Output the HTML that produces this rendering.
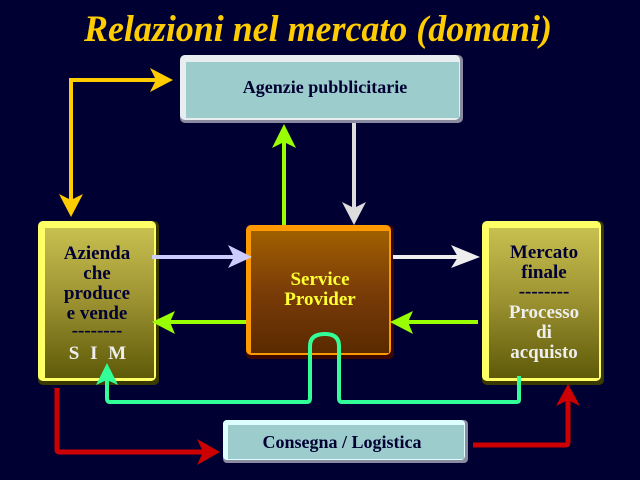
<!DOCTYPE html>
<html><head><meta charset="utf-8"><style>
html,body{margin:0;padding:0;background:#000033;}
svg{display:block}
text{font-family:"Liberation Serif",serif;font-weight:bold;}
</style></head><body>
<svg width="640" height="480" viewBox="0 0 640 480" xmlns="http://www.w3.org/2000/svg">
<defs>
<linearGradient id="yel" x1="0" y1="0" x2="0" y2="1">
<stop offset="0" stop-color="#c8c050"/><stop offset="0.5" stop-color="#9a9030"/><stop offset="1" stop-color="#5e5a08"/>
</linearGradient>
<linearGradient id="org" x1="0" y1="0" x2="0" y2="1">
<stop offset="0" stop-color="#a06000"/><stop offset="0.5" stop-color="#7a3c08"/><stop offset="1" stop-color="#5a2a00"/>
</linearGradient>
</defs>
<rect width="640" height="480" fill="#000033"/>
<text x="318" y="41" text-anchor="middle" font-size="37" font-style="italic" fill="#ffcc00" textLength="468" lengthAdjust="spacingAndGlyphs">Relazioni nel mercato (domani)</text>

<!-- Agenzie -->
<rect x="180" y="55" width="283" height="68" rx="5" fill="#8a8aa0"/>
<rect x="180" y="55" width="280" height="65" rx="5" fill="#e8eef0"/>
<rect x="186" y="62" width="273" height="56" fill="#9ccccc"/>
<text x="325" y="93" text-anchor="middle" font-size="18" fill="#000033">Agenzie pubblicitarie</text>

<!-- Azienda -->
<rect x="38" y="221" width="121" height="164" rx="5" fill="#3a3a00"/>
<rect x="38" y="221" width="118" height="160" rx="5" fill="#ffff66"/>
<rect x="45" y="228" width="109" height="150" fill="url(#yel)"/>
<g font-size="19" fill="#000033" text-anchor="middle">
<text x="97" y="259">Azienda</text><text x="97" y="279">che</text><text x="97" y="299">produce</text><text x="97" y="319">e vende</text><text x="97" y="336">--------</text>
</g>
<text x="99" y="359" text-anchor="middle" font-size="19" fill="#eeeeee" letter-spacing="3">S I M</text>

<!-- Service Provider -->
<rect x="246" y="225" width="148" height="134" rx="5" fill="#3a0800"/>
<rect x="246" y="225" width="145" height="130" rx="5" fill="#ff9900"/>
<rect x="251" y="231" width="138" height="122" fill="url(#org)"/>
<text x="320" y="285" text-anchor="middle" font-size="19" fill="#ffff33">Service</text>
<text x="320" y="305" text-anchor="middle" font-size="19" fill="#ffff33">Provider</text>

<!-- Mercato -->
<rect x="482" y="221" width="122" height="164" rx="5" fill="#3a3a00"/>
<rect x="482" y="221" width="119" height="160" rx="5" fill="#ffff66"/>
<rect x="489" y="228" width="110" height="150" fill="url(#yel)"/>
<g font-size="19" text-anchor="middle">
<text x="544" y="258" fill="#000033">Mercato</text><text x="544" y="278" fill="#000033">finale</text><text x="544" y="297" fill="#000033">--------</text>
<text x="544" y="318" fill="#eeeeee">Processo</text><text x="544" y="338" fill="#eeeeee">di</text><text x="544" y="358" fill="#eeeeee">acquisto</text>
</g>

<!-- Consegna -->
<rect x="223" y="420" width="245" height="43" rx="4" fill="#8a8aa0"/>
<rect x="223" y="420" width="242" height="40" rx="4" fill="#ddffff"/>
<rect x="228" y="425" width="236" height="34" fill="#9ccccc"/>
<text x="342" y="448" text-anchor="middle" font-size="18" fill="#000033">Consegna / Logistica</text>

<!-- yellow double arrow -->
<path d="M71,204 V80 H160" fill="none" stroke="#ffcc00" stroke-width="4"/>
<polygon points="150,68 173,80 150,92 156,80" fill="#ffcc00"/>
<polygon points="59,194 71,217 83,194 71,200" fill="#ffcc00"/>

<!-- green up -->
<line x1="284" y1="225" x2="284" y2="140" stroke="#99ff00" stroke-width="4"/>
<polygon points="272,148 284,124 296,148 284,142" fill="#99ff00"/>
<!-- gray down -->
<line x1="354" y1="123" x2="354" y2="210" stroke="#dddddd" stroke-width="4"/>
<polygon points="342,202 354,225 366,202 354,208" fill="#dddddd"/>

<!-- lavender right -->
<line x1="152" y1="257" x2="236" y2="257" stroke="#ccccff" stroke-width="4"/>
<polygon points="228,245 252,257 228,268 234,257" fill="#ccccff"/>
<!-- green left -->
<line x1="246" y1="322" x2="168" y2="322" stroke="#99ff00" stroke-width="4"/>
<polygon points="175,311 152,322 175,334 170,322" fill="#99ff00"/>
<!-- white right -->
<line x1="393" y1="257" x2="466" y2="257" stroke="#eeeeee" stroke-width="4"/>
<polygon points="451,245 480,257 451,268 458,257" fill="#eeeeee"/>
<!-- green left 2 -->
<line x1="478" y1="322" x2="406" y2="322" stroke="#99ff00" stroke-width="4"/>
<polygon points="413,311 390,322 413,334 408,322" fill="#99ff00"/>

<!-- teal -->
<path d="M519,376 V400 Q519,402 516,402 H342 Q339,402 339,398 V346 Q339,334 325,334 Q310,334 310,346 V398 Q310,402 307,402 H110 Q107,402 107,398 V375" fill="none" stroke="#33ff99" stroke-width="4"/>
<polygon points="96,385 107,363 118,385 107,380" fill="#33ff99"/>

<!-- red -->
<path d="M57,388 V450 Q57,452 60,452 H206" fill="none" stroke="#cc0000" stroke-width="5"/>
<polygon points="197,439 220,452 197,465 203,452" fill="#cc0000"/>
<path d="M473,445 H566 Q568,445 568,442 V398" fill="none" stroke="#cc0000" stroke-width="5"/>
<polygon points="556,406 568,384 580,406 568,400" fill="#cc0000"/>
</svg>
</body></html>
